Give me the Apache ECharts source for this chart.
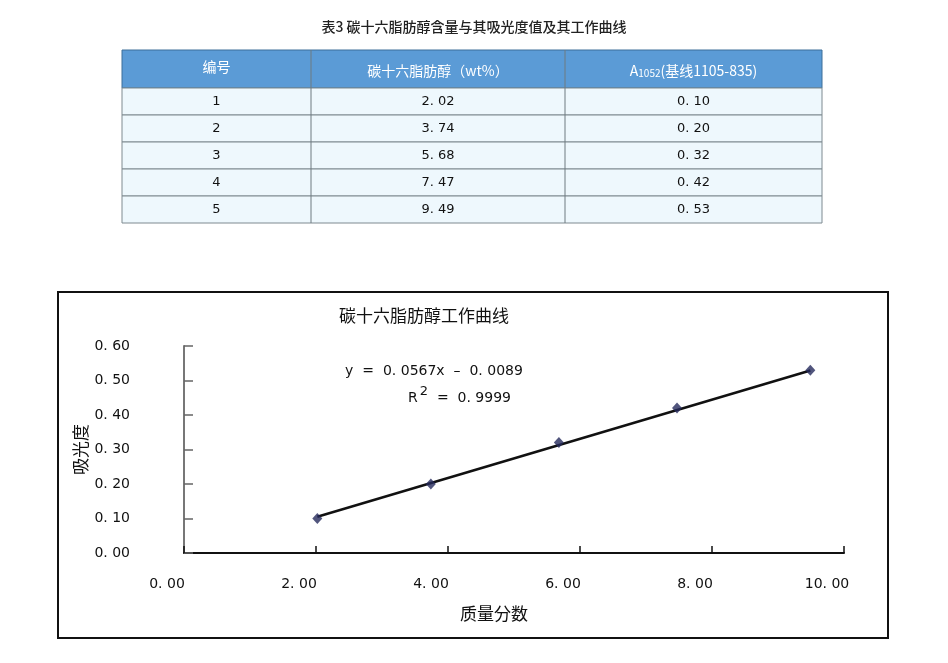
<!DOCTYPE html>
<html>
<head>
<meta charset="utf-8">
<script src="https://cdn.jsdelivr.net/npm/echarts@6/dist/echarts.min.js"></script>
<style>
html,body{margin:0;padding:0;background:#fff;}
#main{width:948px;height:663px;}
</style>
</head>
<body>
<div id="main"></div>
<script>
// ---- data ----
var tableTitle = '表3 碳十六脂肪醇含量与其吸光度值及其工作曲线';
var sampleIds = ['1', '2', '3', '4', '5'];
var massFraction = [2.02, 3.74, 5.68, 7.47, 9.49];
var absorbance = [0.10, 0.20, 0.32, 0.42, 0.53];
var massLabels = ['2. 02', '3. 74', '5. 68', '7. 47', '9. 49'];
var absLabels = ['0. 10', '0. 20', '0. 32', '0. 42', '0. 53'];
var trendX = [2.02, 9.49];
var trendY = [0.105, 0.529];
var xTickLabels = ['0. 00', '2. 00', '4. 00', '6. 00', '8. 00', '10. 00'];
var yTickLabels = ['0. 00', '0. 10', '0. 20', '0. 30', '0. 40', '0. 50', '0. 60'];
var chartTitle = '碳十六脂肪醇工作曲线';
var equationText = 'y  =  0. 0567x  –  0. 0089';
var r2Value = '0. 9999';

var FONT = '"Noto Sans CJK JP", "Noto Sans CJK SC", sans-serif';
var NUMFONT = '"DejaVu Sans", "Noto Sans CJK SC", sans-serif';

// ---- table layout ----
var colX = [122, 311, 565, 822];
var headTop = 50, headBottom = 88, rowH = 27;
var graphics = [];

graphics.push({
  type: 'text', left: 'center', top: 20,
  style: { text: tableTitle, x: 0, fill: '#222', font: '500 14px ' + FONT }
});
// header background
graphics.push({
  type: 'rect', shape: { x: colX[0], y: headTop, width: colX[3] - colX[0], height: headBottom - headTop },
  style: { fill: '#5b9bd6', stroke: '#3d6f99', lineWidth: 1 }
});
var headerTexts = [
  { text: '编号', rich: null, dy: -2 },
  { text: '碳十六脂肪醇（wt%）', rich: null, dy: 2 },
  { text: '{a|A}{s|1052}{a|(基线1105-835)}', rich: true, dy: 2 }
];
for (var c = 0; c < 3; c++) {
  var cx = (colX[c] + colX[c + 1]) / 2;
  var st = {
    text: headerTexts[c].text, x: cx, y: (headTop + headBottom) / 2 + headerTexts[c].dy,
    align: 'center', verticalAlign: 'middle', fill: '#fff', font: '14px ' + FONT
  };
  if (headerTexts[c].rich) {
    st.rich = {
      a: { fill: '#fff', fontSize: 14, fontFamily: FONT },
      s: { fill: '#fff', fontSize: 10, fontFamily: FONT, padding: [4, 0, 0, 0] }
    };
  }
  graphics.push({ type: 'text', style: st });
}
// rows
for (var r = 0; r < sampleIds.length; r++) {
  var y0 = headBottom + r * rowH;
  graphics.push({
    type: 'rect', shape: { x: colX[0], y: y0, width: colX[3] - colX[0], height: rowH },
    style: { fill: '#eef8fd', stroke: '#7f8a90', lineWidth: 1 }
  });
  var cells = [sampleIds[r], massLabels[r], absLabels[r]];
  for (var c2 = 0; c2 < 3; c2++) {
    graphics.push({
      type: 'text',
      style: {
        text: cells[c2], x: (colX[c2] + colX[c2 + 1]) / 2, y: y0 + rowH / 2,
        align: 'center', verticalAlign: 'middle', fill: '#111', font: '13px ' + NUMFONT
      }
    });
  }
}
// column dividers
for (var k = 1; k < 3; k++) {
  graphics.push({
    type: 'line', shape: { x1: colX[k], y1: headTop, x2: colX[k], y2: headBottom + rowH * sampleIds.length },
    style: { stroke: '#6f7a80', lineWidth: 1 }
  });
}
// chart frame
graphics.push({
  type: 'rect', shape: { x: 58, y: 292, width: 830, height: 346 },
  style: { fill: 'none', stroke: '#111', lineWidth: 2 }, z: 10
});
// chart title
graphics.push({
  type: 'text', style: { text: chartTitle, x: 424, y: 316, align: 'center', verticalAlign: 'middle', fill: '#111', font: '17px ' + FONT }
});
// equation
graphics.push({
  type: 'text', style: { text: equationText, x: 434, y: 371, align: 'center', verticalAlign: 'middle', fill: '#111', font: '14px ' + NUMFONT }
});
graphics.push({
  type: 'text', style: {
    text: '{a|R}{s|2}{a|  =  ' + r2Value + '}', x: 408, y: 398, align: 'left', verticalAlign: 'middle',
    rich: {
      a: { fill: '#111', fontSize: 14, fontFamily: NUMFONT },
      s: { fill: '#111', fontSize: 13, fontFamily: NUMFONT, padding: [0, 0, 12, 2] }
    }
  }
});

var chart = echarts.init(document.getElementById('main'));
chart.setOption({
  animation: false,
  backgroundColor: '#fff',
  grid: { left: 184, right: 104, top: 346, bottom: 110 },
  xAxis: {
    type: 'value', min: 0, max: 10, interval: 2,
    name: '质量分数', nameLocation: 'middle', nameGap: 52, nameMoveOverlap: false,
    nameTextStyle: { color: '#111', fontSize: 17, fontFamily: FONT, padding: [0, 40, 0, 0] },
    axisLine: { show: true, onZero: false, lineStyle: { color: '#111', width: 2 } },
    axisTick: { show: true, inside: true, length: 7, lineStyle: { color: '#111', width: 1.5 } },
    axisLabel: {
      margin: 24, color: '#111', fontSize: 14, fontFamily: NUMFONT, padding: [0, 34, 0, 0],
      formatter: function (v) { return xTickLabels[Math.round(v / 2)]; }
    },
    splitLine: { show: false }
  },
  yAxis: {
    type: 'value', min: 0, max: 0.6, interval: 0.1,
    name: '吸光度', nameLocation: 'middle', nameGap: 95, nameRotate: 90, nameMoveOverlap: false,
    nameTextStyle: { color: '#111', fontSize: 17, fontFamily: FONT },
    axisLine: { show: true, lineStyle: { color: '#777', width: 2 } },
    axisTick: { show: true, inside: true, length: 9, lineStyle: { color: '#666', width: 1.5 } },
    axisLabel: {
      margin: 54, color: '#111', fontSize: 14, fontFamily: NUMFONT, padding: [6, 0, 0, 0],
      formatter: function (v) { return yTickLabels[Math.round(v * 10)]; }
    },
    splitLine: { show: false }
  },
  series: [
    {
      type: 'line', data: trendX.map(function (x, i) { return [x, trendY[i]]; }),
      symbol: 'none', lineStyle: { color: '#111', width: 2.5 }, z: 2
    },
    {
      type: 'scatter', data: massFraction.map(function (x, i) { return [x, absorbance[i]]; }),
      symbol: 'diamond', symbolSize: [10, 11], itemStyle: { color: '#262b5c' }, z: 3
    }
  ],
  graphic: { elements: graphics }
});
</script>
</body>
</html>
